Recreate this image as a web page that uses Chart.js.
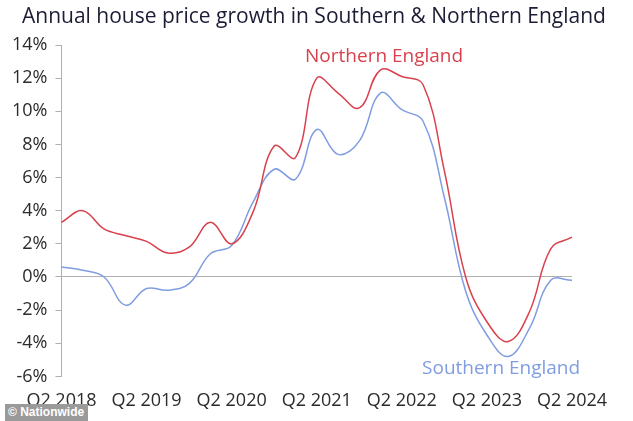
<!DOCTYPE html>
<html>
<head>
<meta charset="utf-8">
<script src="https://cdn.jsdelivr.net/npm/chart.js@4.4.1/dist/chart.umd.min.js"></script>
<style>
  html, body { margin: 0; padding: 0; background: #fff; }
  #wrap { position: relative; width: 633px; height: 421px; }
  #badge {
    position: absolute; left: 5px; top: 404px; width: 83px; height: 17px;
    background: #9a9a9a; color: #fff; font: bold 12px "Liberation Sans", Arial, sans-serif;
    line-height: 17px; padding-left: 3px; box-sizing: border-box;
  }
</style>
</head>
<body>
<div id="wrap">
  <canvas id="chart"></canvas>
  <div id="badge">© Nationwide</div>
</div>
<script>
// quarterly, Q2 2018 .. Q2 2024
const quarters = [
  "Q2 2018", "Q3 2018", "Q4 2018", "Q1 2019",
  "Q2 2019", "Q3 2019", "Q4 2019", "Q1 2020",
  "Q2 2020", "Q3 2020", "Q4 2020", "Q1 2021",
  "Q2 2021", "Q3 2021", "Q4 2021", "Q1 2022",
  "Q2 2022", "Q3 2022", "Q4 2022", "Q1 2023",
  "Q2 2023", "Q3 2023", "Q4 2023", "Q1 2024",
  "Q2 2024"
];

const northern = [
  3.3, 4.0, 2.9, 2.5,
  2.15, 1.45, 1.8, 3.3,
  2.0, 3.9, 7.9, 7.2,
  12.0, 11.1, 10.2, 12.5,
  12.1, 11.6, 6.4, 0.0,
  -2.7, -3.9, -2.1, 1.7,
  2.4
];

const southern = [
  0.6, 0.4, 0.0, -1.7,
  -0.7, -0.8, -0.4, 1.4,
  1.9, 4.5, 6.5, 5.9,
  8.9, 7.4, 8.2, 11.1,
  10.1, 9.4, 4.8, -0.85,
  -3.5, -4.8, -3.1, -0.2,
  -0.2
];

const yTicks = [-6, -4, -2, 0, 2, 4, 6, 8, 10, 12, 14];

const TITLE = "Annual house price growth in Southern & Northern England";

const RED  = "#d8414d";
const BLUE = "#7f9de0";
const TEXT = "#2b2b2b";
const AXIS = "#b0b0b0";
const FONT = "'Open Sans', sans-serif";

// series name labels, anchored in data coordinates
const seriesLabels = [
  { text: "Northern England", x: 11.45, y: 13.3, color: RED },
  { text: "Southern England", x: 16.95, y: -5.5, color: BLUE }
];

const seriesLabelPlugin = {
  id: "seriesLabels",
  afterDatasetsDraw(chart) {
    const { ctx, scales } = chart;
    ctx.save();
    ctx.font = "19px " + FONT;
    ctx.textAlign = "left";
    ctx.textBaseline = "middle";
    seriesLabels.forEach(l => {
      ctx.fillStyle = l.color;
      ctx.fillText(l.text, scales.x.getPixelForValue(l.x), scales.y.getPixelForValue(l.y));
    });
    ctx.restore();
  }
};

// title sits a bit right of the y labels, so draw it by hand
const titlePlugin = {
  id: "leftTitle",
  afterDraw(chart) {
    const { ctx } = chart;
    ctx.save();
    ctx.font = "21px " + FONT;
    ctx.fillStyle = "#1c1c36";
    ctx.textAlign = "left";
    ctx.textBaseline = "middle";
    ctx.fillText(TITLE, 22, 17);
    ctx.restore();
  }
};

new Chart(document.getElementById("chart"), {
  type: "line",
  data: {
    labels: quarters,
    datasets: [
      {
        label: "Northern England",
        data: northern,
        borderColor: RED,
        borderWidth: 1.5,
        pointRadius: 0,
        tension: 0.4,
        fill: false
      },
      {
        label: "Southern England",
        data: southern,
        borderColor: BLUE,
        borderWidth: 1.5,
        pointRadius: 0,
        tension: 0.4,
        fill: false
      }
    ]
  },
  plugins: [seriesLabelPlugin, titlePlugin],
  options: {
    responsive: true,
    maintainAspectRatio: false,
    animation: false,
    layout: {
      padding: { left: 4, right: 61, top: 45, bottom: 3 }
    },
    scales: {
      x: {
        type: "category",
        offset: false,
        border: { display: false },
        grid: { display: false },
        ticks: {
          autoSkip: false,
          maxRotation: 0,
          padding: 6,
          color: TEXT,
          font: { family: FONT, size: 18 },
          callback: (val, i) => i % 4 === 0 ? quarters[i] : null
        }
      },
      y: {
        min: -6,
        max: 14,
        afterBuildTicks: axis => {
          axis.ticks = yTicks.map(v => ({ value: v }));
        },
        border: { display: true, color: AXIS, width: 1 },
        grid: {
          drawOnChartArea: true,
          drawTicks: true,
          tickLength: 6,
          tickColor: AXIS,
          color: ctx => ctx.tick && ctx.tick.value === 0 ? AXIS : "transparent"
        },
        ticks: {
          padding: 8,
          color: TEXT,
          font: { family: FONT, size: 18 },
          callback: v => v + "%"
        }
      }
    },
    plugins: {
      legend: { display: false },
      tooltip: { enabled: false },
      title: { display: false }
    }
  }
});
</script>
</body>
</html>
